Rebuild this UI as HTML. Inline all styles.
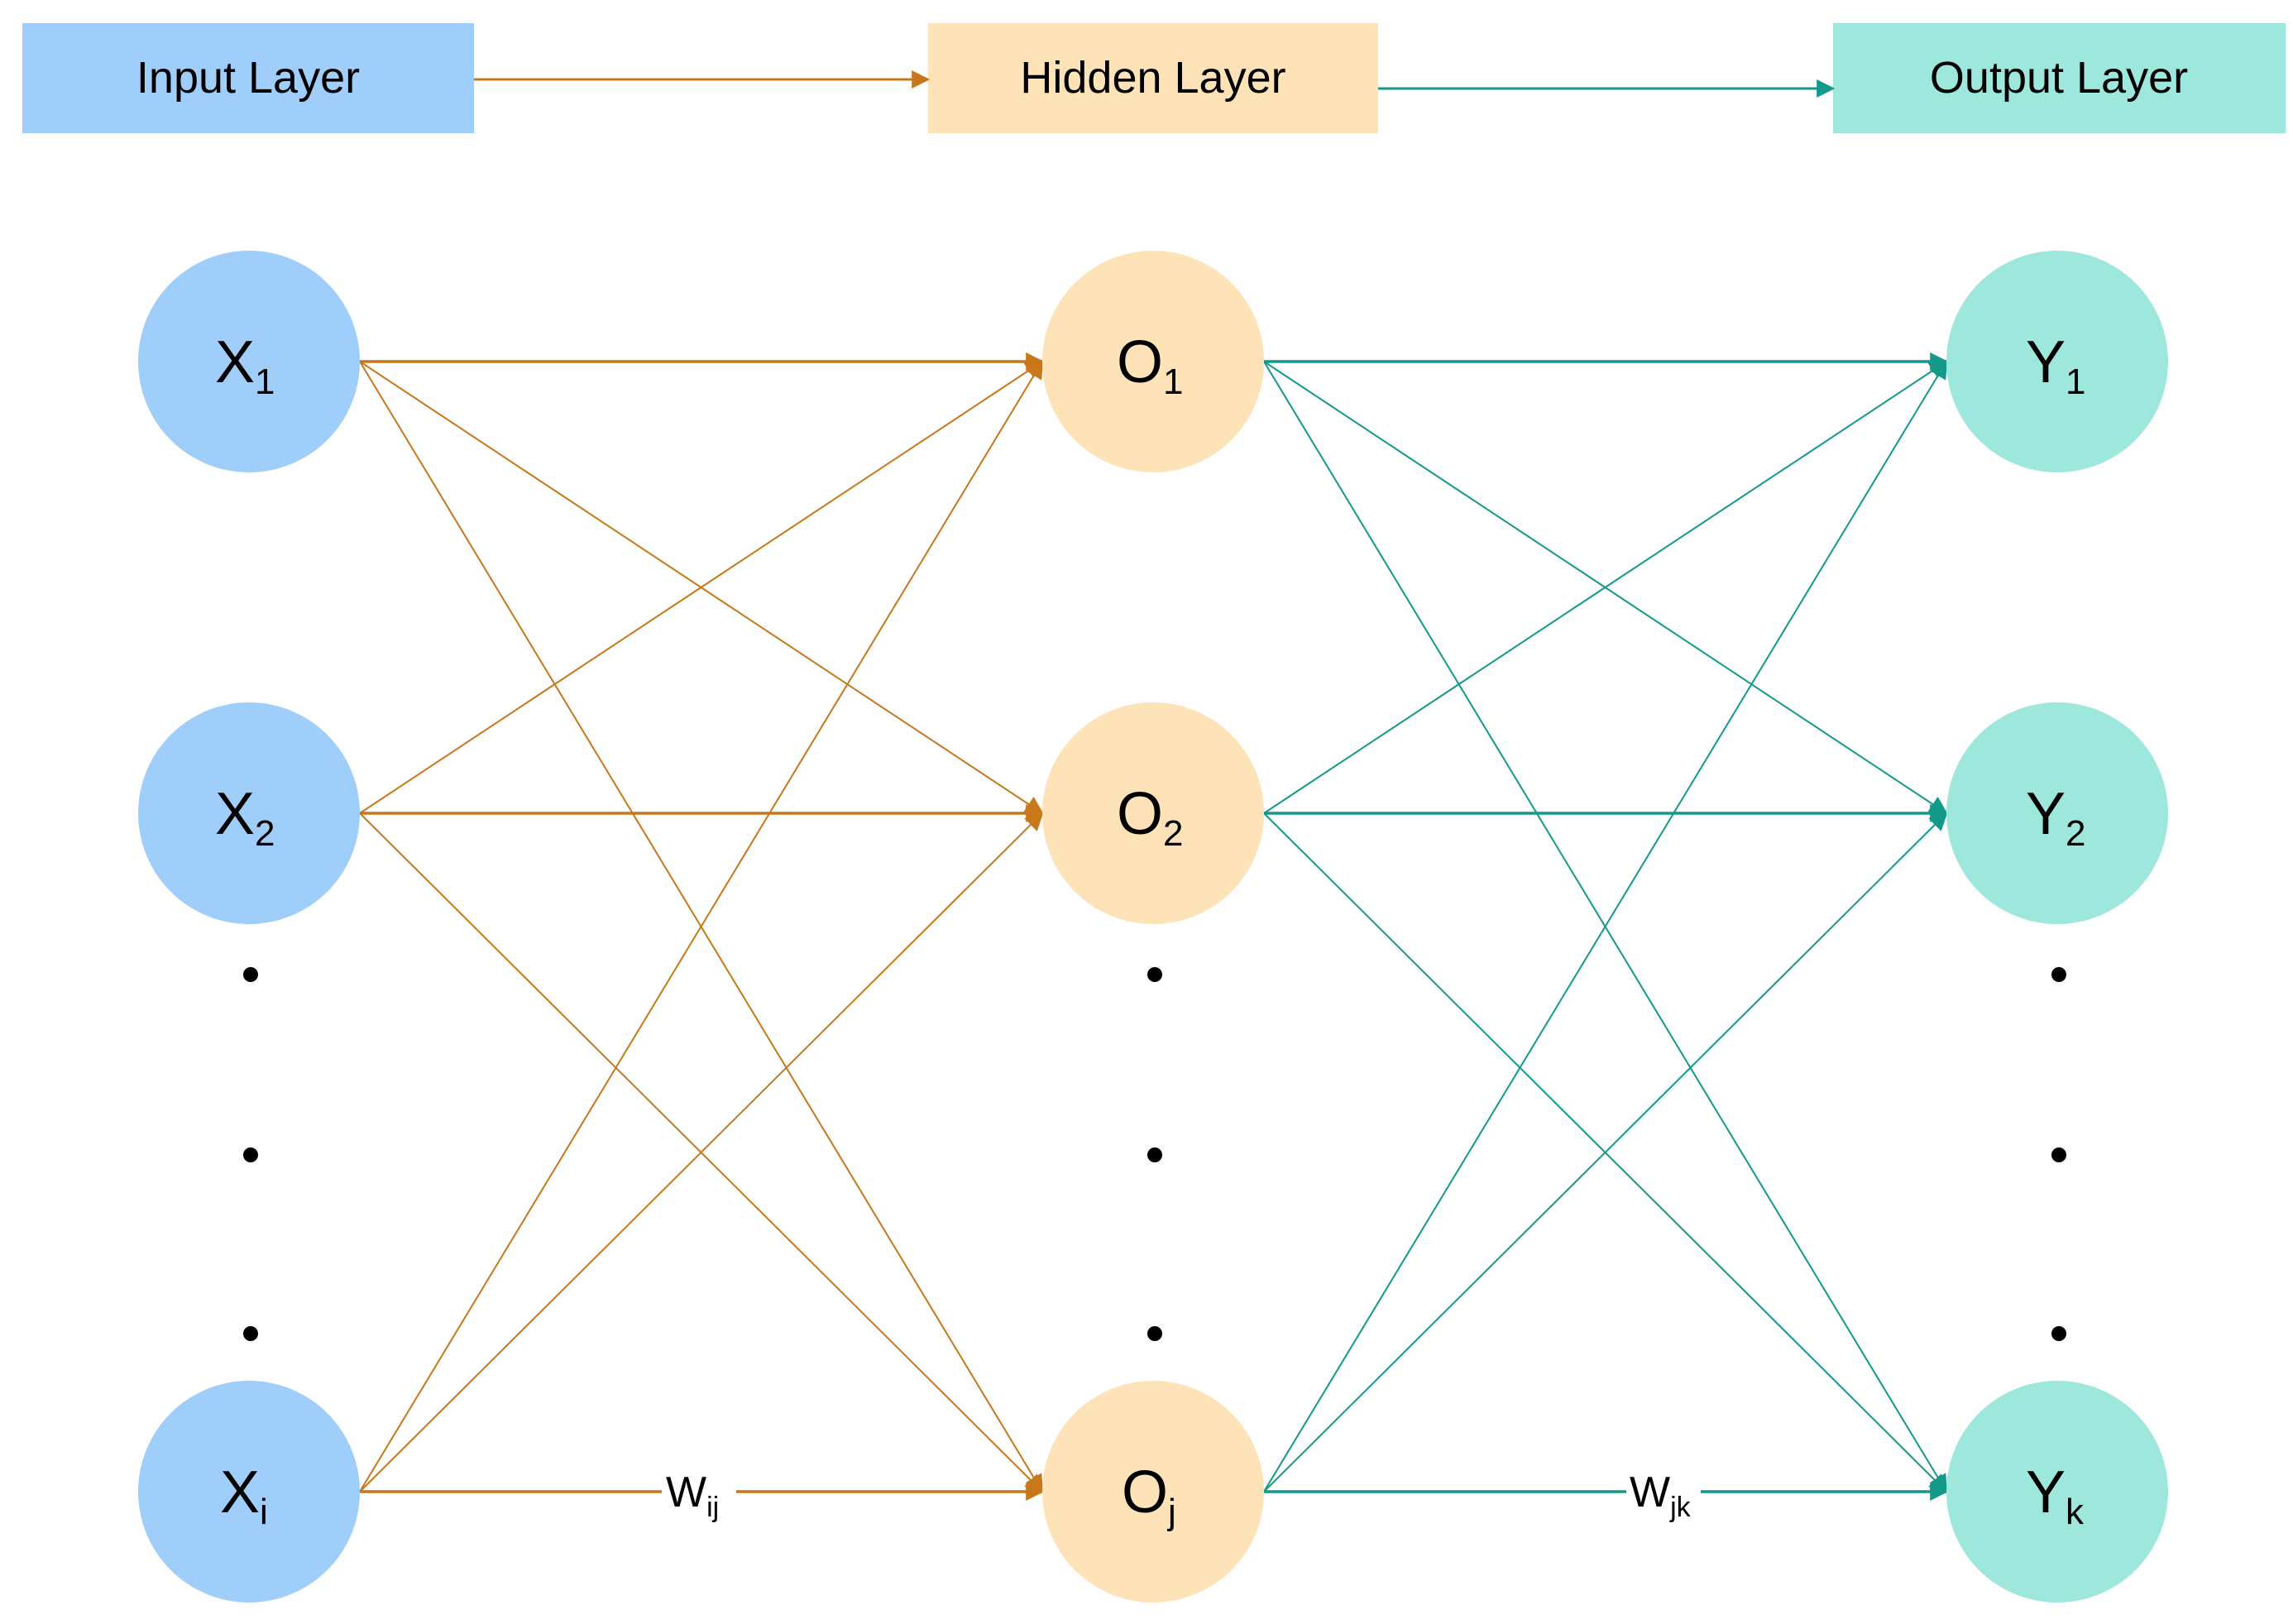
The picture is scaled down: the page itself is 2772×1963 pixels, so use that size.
<!DOCTYPE html>
<html><head><meta charset="utf-8"><style>
html,body{margin:0;padding:0;background:#fff;}
svg{display:block;}
text{font-family:"Liberation Sans",sans-serif;fill:#000;}
</style></head><body>
<svg width="2772" height="1963" viewBox="0 0 2772 1963" xmlns="http://www.w3.org/2000/svg">
<defs>
<marker id="ao" viewBox="0 0 10 10" refX="9" refY="5" markerWidth="22" markerHeight="22" markerUnits="userSpaceOnUse" orient="auto"><path d="M0,0 L10,5 L0,10 z" fill="#C8771A"/></marker>
<marker id="at" viewBox="0 0 10 10" refX="9" refY="5" markerWidth="22" markerHeight="22" markerUnits="userSpaceOnUse" orient="auto"><path d="M0,0 L10,5 L0,10 z" fill="#12998A"/></marker>
</defs>
<rect x="27" y="28" width="546" height="133" fill="#A0CEFA"/>
<rect x="1122" y="28" width="544" height="133" fill="#FEE2B8"/>
<rect x="2216" y="28" width="547" height="133" fill="#9DE7DD"/>
<text x="300" y="112" font-size="54" text-anchor="middle">Input Layer</text>
<text x="1394" y="112" font-size="54" text-anchor="middle">Hidden Layer</text>
<text x="2489" y="112" font-size="54" text-anchor="middle">Output Layer</text>
<line x1="573" y1="96" x2="1122" y2="96" stroke="#C8771A" stroke-width="3" marker-end="url(#ao)"/>
<line x1="1666" y1="107" x2="2216" y2="107" stroke="#12998A" stroke-width="3" marker-end="url(#at)"/>
<g stroke="#C8771A" stroke-width="2" fill="none">
<line x1="435" y1="437" x2="1260" y2="437" stroke-width="3.5" marker-end="url(#ao)"/>
<line x1="435" y1="437" x2="1260" y2="983" marker-end="url(#ao)"/>
<line x1="435" y1="437" x2="1260" y2="1803" marker-end="url(#ao)"/>
<line x1="435" y1="983" x2="1260" y2="437" marker-end="url(#ao)"/>
<line x1="435" y1="983" x2="1260" y2="983" stroke-width="3.5" marker-end="url(#ao)"/>
<line x1="435" y1="983" x2="1260" y2="1803" marker-end="url(#ao)"/>
<line x1="435" y1="1803" x2="1260" y2="437" marker-end="url(#ao)"/>
<line x1="435" y1="1803" x2="1260" y2="983" marker-end="url(#ao)"/>
<line x1="435" y1="1803" x2="1260" y2="1803" stroke-width="3.5" marker-end="url(#ao)"/>
</g>
<g stroke="#12998A" stroke-width="2" fill="none">
<line x1="1528" y1="437" x2="2353" y2="437" stroke-width="3.5" marker-end="url(#at)"/>
<line x1="1528" y1="437" x2="2353" y2="983" marker-end="url(#at)"/>
<line x1="1528" y1="437" x2="2353" y2="1803" marker-end="url(#at)"/>
<line x1="1528" y1="983" x2="2353" y2="437" marker-end="url(#at)"/>
<line x1="1528" y1="983" x2="2353" y2="983" stroke-width="3.5" marker-end="url(#at)"/>
<line x1="1528" y1="983" x2="2353" y2="1803" marker-end="url(#at)"/>
<line x1="1528" y1="1803" x2="2353" y2="437" marker-end="url(#at)"/>
<line x1="1528" y1="1803" x2="2353" y2="983" marker-end="url(#at)"/>
<line x1="1528" y1="1803" x2="2353" y2="1803" stroke-width="3.5" marker-end="url(#at)"/>
</g>
<rect x="800" y="1776" width="90" height="60" fill="#fff"/>
<rect x="1966" y="1776" width="90" height="60" fill="#fff"/>
<text x="805" y="1821" font-size="52">W<tspan font-size="34" dy="12">ij</tspan></text>
<text x="1970" y="1821" font-size="52">W<tspan font-size="34" dy="12">jk</tspan></text>
<g fill="#A0CEFA"><circle cx="301" cy="437" r="134"/><circle cx="301" cy="983" r="134"/><circle cx="301" cy="1803" r="134"/></g>
<g fill="#FEE2B8"><circle cx="1394" cy="437" r="134"/><circle cx="1394" cy="983" r="134"/><circle cx="1394" cy="1803" r="134"/></g>
<g fill="#9DE7DD"><circle cx="2487" cy="437" r="134"/><circle cx="2487" cy="983" r="134"/><circle cx="2487" cy="1803" r="134"/></g>
<g fill="#000">
<circle cx="303" cy="1178" r="9"/><circle cx="303" cy="1396" r="9"/><circle cx="303" cy="1612" r="9"/>
<circle cx="1396" cy="1178" r="9"/><circle cx="1396" cy="1396" r="9"/><circle cx="1396" cy="1612" r="9"/>
<circle cx="2489" cy="1178" r="9"/><circle cx="2489" cy="1396" r="9"/><circle cx="2489" cy="1612" r="9"/>
</g>
<g font-size="72">
<text x="260" y="462">X<tspan font-size="44" dy="14">1</tspan></text>
<text x="260" y="1008">X<tspan font-size="44" dy="14">2</tspan></text>
<text x="266" y="1828">X<tspan font-size="44" dy="14">i</tspan></text>
<text x="1350" y="462">O<tspan font-size="44" dy="14">1</tspan></text>
<text x="1350" y="1008">O<tspan font-size="44" dy="14">2</tspan></text>
<text x="1356" y="1828">O<tspan font-size="44" dy="14">j</tspan></text>
<text x="2449" y="462">Y<tspan font-size="44" dy="14">1</tspan></text>
<text x="2449" y="1008">Y<tspan font-size="44" dy="14">2</tspan></text>
<text x="2449" y="1828">Y<tspan font-size="44" dy="14">k</tspan></text>
</g>
</svg>
</body></html>
